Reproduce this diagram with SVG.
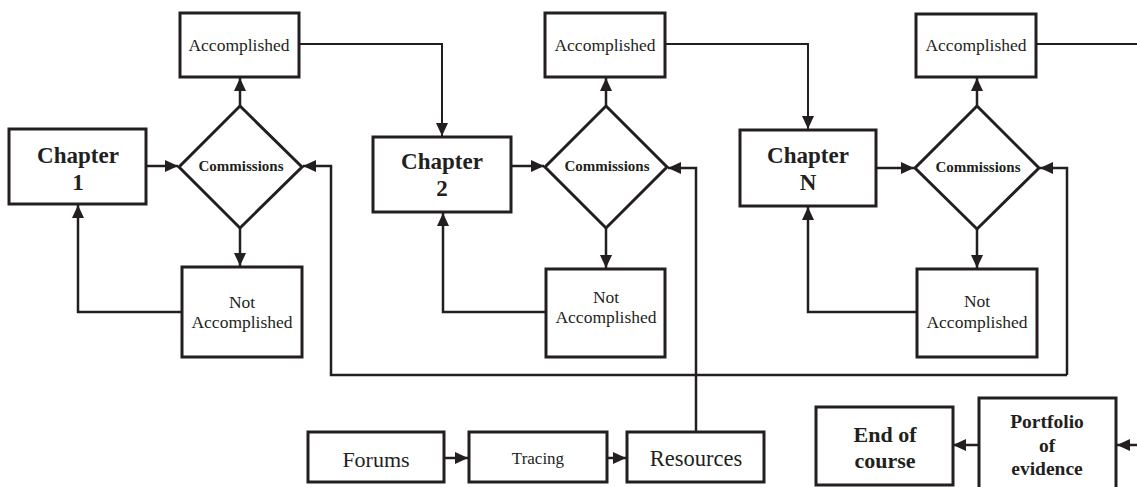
<svg xmlns="http://www.w3.org/2000/svg" width="1137" height="487" viewBox="0 0 1137 487">
<style>
.box{fill:#fff;stroke:#231f20;stroke-width:3}
.c{fill:none;stroke:#231f20;stroke-width:2.5}
.t{font-family:"Liberation Serif","Times New Roman",serif;fill:#231f20;text-anchor:middle}
.b{font-weight:bold}
</style>
<defs>
<marker id="ah" markerUnits="userSpaceOnUse" markerWidth="14" markerHeight="14" viewBox="0 0 14 14" refX="13" refY="7" orient="auto">
<path d="M0,1 L13,7 L0,13 Z" fill="#231f20"/>
</marker>
</defs>
<rect width="1137" height="487" fill="#fff"/>
<g id="connectors">
<path class="c" d="M146,166 L178,166" marker-end="url(#ah)"/>
<path class="c" d="M240,106 L240,78" marker-end="url(#ah)"/>
<path class="c" d="M240,228 L240,266" marker-end="url(#ah)"/>
<path class="c" d="M182,312 L78,312 L78,205" marker-end="url(#ah)"/>
<path class="c" style="stroke-width:2" d="M299,44 L442,44 L442,136" marker-end="url(#ah)"/>
<path class="c" d="M511,166 L544,166" marker-end="url(#ah)"/>
<path class="c" d="M606,106 L606,78" marker-end="url(#ah)"/>
<path class="c" d="M606,228 L606,268" marker-end="url(#ah)"/>
<path class="c" d="M546,312 L443,312 L443,213" marker-end="url(#ah)"/>
<path class="c" style="stroke-width:2" d="M665,44 L808,44 L808,129" marker-end="url(#ah)"/>
<path class="c" d="M876,168 L914,168" marker-end="url(#ah)"/>
<path class="c" d="M977,106 L977,78" marker-end="url(#ah)"/>
<path class="c" d="M977,229 L977,268" marker-end="url(#ah)"/>
<path class="c" d="M917,312 L808,312 L808,207" marker-end="url(#ah)"/>
<path class="c" style="stroke-width:2" d="M1036,44 L1137,44"/>
<path class="c" d="M1067,375 L1067,168 L1040,168" marker-end="url(#ah)"/>
<path class="c" d="M1067,375 L331,375 L331,166 L303,166" marker-end="url(#ah)"/>
<path class="c" d="M696,432 L696,168 L668,168" marker-end="url(#ah)"/>
<path class="c" d="M444,458 L468,458" marker-end="url(#ah)"/>
<path class="c" d="M607,458 L626,458" marker-end="url(#ah)"/>
<path class="c" d="M979,445 L953,445" marker-end="url(#ah)"/>
<path class="c" d="M1137,445 L1117,445" marker-end="url(#ah)"/>
</g>
<g id="chapter1">
<rect class="box" x="9" y="129" width="137" height="75"/>
<text class="t b" x="78" y="163" font-size="23">Chapter</text>
<text class="t b" x="78" y="190" font-size="23">1</text>
</g>
<g id="commissions1">
<polygon class="box" points="240,106 302,167 240,228 179,167"/>
<text class="t b" x="241" y="171" font-size="15">Commissions</text>
</g>
<g id="accomplished1">
<rect class="box" x="180" y="13" width="119" height="64"/>
<text class="t" x="239" y="51" font-size="17.5">Accomplished</text>
</g>
<g id="notaccomplished1">
<rect class="box" x="182" y="267" width="120" height="90"/>
<text class="t" x="242" y="308" font-size="17.5">Not</text>
<text class="t" x="242" y="328" font-size="17.5">Accomplished</text>
</g>
<g id="chapter2">
<rect class="box" x="373" y="137" width="138" height="75"/>
<text class="t b" x="442" y="169" font-size="23">Chapter</text>
<text class="t b" x="442" y="196" font-size="23">2</text>
</g>
<g id="commissions2">
<polygon class="box" points="606,106 667,167 606,228 545,167"/>
<text class="t b" x="607" y="171" font-size="15">Commissions</text>
</g>
<g id="accomplished2">
<rect class="box" x="545" y="13" width="120" height="64"/>
<text class="t" x="605" y="51" font-size="17.5">Accomplished</text>
</g>
<g id="notaccomplished2">
<rect class="box" x="546" y="269" width="119" height="88"/>
<text class="t" x="606" y="303" font-size="17.5">Not</text>
<text class="t" x="606" y="323" font-size="17.5">Accomplished</text>
</g>
<g id="chapterN">
<rect class="box" x="740" y="130" width="136" height="76"/>
<text class="t b" x="808" y="163" font-size="23">Chapter</text>
<text class="t b" x="808" y="190" font-size="23">N</text>
</g>
<g id="commissionsN">
<polygon class="box" points="977,106 1039,168 977,229 915,168"/>
<text class="t b" x="978" y="172" font-size="15">Commissions</text>
</g>
<g id="accomplishedN">
<rect class="box" x="916" y="14" width="120" height="63"/>
<text class="t" x="976" y="51" font-size="17.5">Accomplished</text>
</g>
<g id="notaccomplishedN">
<rect class="box" x="917" y="269" width="120" height="88"/>
<text class="t" x="977" y="307" font-size="17.5">Not</text>
<text class="t" x="977" y="328" font-size="17.5">Accomplished</text>
</g>
<g id="forums">
<rect class="box" x="308" y="432" width="136" height="50"/>
<text class="t" x="376" y="467" font-size="22">Forums</text>
</g>
<g id="tracing">
<rect class="box" x="469" y="432" width="138" height="50"/>
<text class="t" x="538" y="464" font-size="17">Tracing</text>
</g>
<g id="resources">
<rect class="box" x="627" y="432" width="137" height="50"/>
<text class="t" x="696" y="466" font-size="22.5">Resources</text>
</g>
<g id="endofcourse">
<rect class="box" x="816" y="407" width="137" height="78"/>
<text class="t b" x="885" y="442" font-size="22">End of</text>
<text class="t b" x="885" y="468" font-size="22">course</text>
</g>
<g id="portfolio">
<rect class="box" x="979" y="398" width="137" height="95"/>
<text class="t b" x="1047" y="428" font-size="19.5">Portfolio</text>
<text class="t b" x="1047" y="452" font-size="19.5">of</text>
<text class="t b" x="1047" y="475" font-size="19.5">evidence</text>
</g>
</svg>
